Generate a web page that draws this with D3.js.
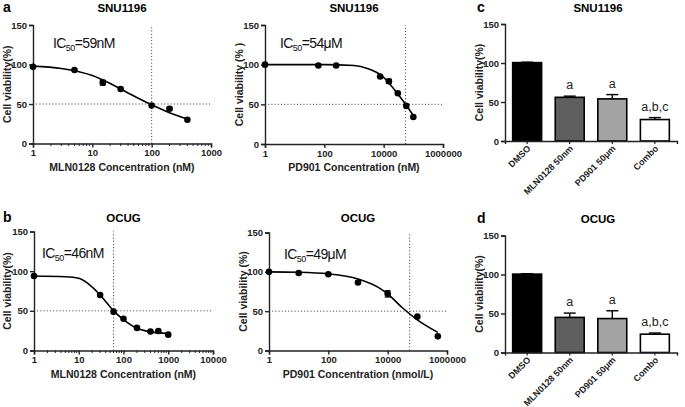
<!DOCTYPE html>
<html><head><meta charset="utf-8">
<script src="https://cdn.jsdelivr.net/npm/d3@7"></script>
<style>
body{margin:0;background:#fff;}
svg{font-family:"Liberation Sans",Arial,sans-serif;}
</style></head>
<body><svg id="c" width="685" height="407"></svg>
<script>
// ---------- DATA ----------
// Panel a (left): SNU1196, MLN0128
const a1Conc = [1, 5, 15, 30, 100, 200, 400];
const a1Viab = [97, 93, 77, 69, 48, 44, 30];
const a1Err  = [0, 0, 3, 0, 0, 2, 0];
const a1CurveConc = [1, 3, 10, 20, 40, 100, 200, 400];
const a1CurveViab = [98, 95, 86, 76, 64, 49, 39, 31];
const a1Ticks = [1, 10, 100, 1000];
const a1Ref = 100;

// Panel a (right): SNU1196, PD901
const a2Conc = [1, 63, 250, 7600, 15000, 30000, 58000, 100000];
const a2Viab = [100, 99, 99, 85, 79, 64, 48, 34];
const a2Err  = [0, 0, 0, 0, 2.5, 0, 0, 0];
const a2CurveConc = [1, 100, 1000, 3000, 8000, 15000, 30000, 60000, 100000];
const a2CurveViab = [100, 100, 99, 95, 87, 77, 63, 48, 36];
const a2Ticks = [1, 100, 10000, 1000000];
const a2Ref = 54000;

// Panel b (left): OCUG, MLN0128
const b1Conc = [1, 30, 60, 100, 200, 400, 600, 1000];
const b1Viab = [94, 70, 49, 40, 28.5, 24, 24.5, 20];
const b1Err  = [0, 0, 0, 0, 0, 0, 0, 0];
const b1CurveConc = [1, 5, 10, 20, 30, 60, 100, 200, 400, 1000];
const b1CurveViab = [94, 93, 91, 80, 70, 50, 39, 28, 23.5, 21.5];
const b1Ticks = [1, 10, 100, 1000, 10000];
const b1Ref = 60;

// Panel b (right): OCUG, PD901
const b2Conc = [1, 10, 100, 1000, 10000, 100000, 490000];
const b2Viab = [100, 98.5, 97, 86.5, 72, 43, 18];
const b2Err  = [0, 0, 0, 0, 4, 0, 0];
const b2CurveConc = [1, 10, 100, 1000, 5000, 10000, 30000, 100000, 490000];
const b2CurveViab = [100, 99.5, 97.5, 91, 80, 72, 55, 39, 23];
const b2Ticks = [1, 100, 10000, 1000000];
const b2Ref = 55000;

const yTicks = [0, 50, 100, 150];

// Panels c and d: bars
const barCats = ["DMSO", "MLN0128 50nm", "PD901 50μm", "Combo"];
const barFills = ["#000000", "#5f5f5f", "#a3a3a3", "#ffffff"];
const cViab = [100.5, 56, 54, 27.5];
const cErr  = [0.5, 1.5, 5.5, 2.5];
const dViab = [100.5, 45, 43.5, 23.5];
const dErr  = [0.5, 5.5, 10, 1.5];
const sigLabels = ["", "a", "a", "a,b,c"];

// ---------- DRAW ----------
const svg = d3.select("#c");
const FONT_TICK = 9.5, FONT_AX = 10.5, FONT_TITLE = 11.5;

function yAxis(g, y, x0) {
  const ax = g.append("g").attr("transform", `translate(${x0},0)`)
    .call(d3.axisLeft(y).tickValues(yTicks).tickSize(4).tickPadding(2).tickFormat(d3.format("d")));
  ax.select(".domain").attr("stroke", "#222").attr("stroke-width", 1.4);
  ax.selectAll(".tick line").attr("stroke", "#222").attr("stroke-width", 1.4);
  ax.selectAll("text").attr("font-size", FONT_TICK).attr("font-weight", "bold").attr("fill", "#222");
  return ax;
}

function curvePanel(o) {
  const g = svg.append("g");
  const x = d3.scaleLog().domain([o.ticks[0], o.ticks[o.ticks.length - 1]]).range([o.x0, o.x1]);
  const y = d3.scaleLinear().domain([0, 150]).range([o.y0, o.y1]);
  // reference dotted lines
  g.append("line").attr("x1", o.x0).attr("x2", o.x1).attr("y1", y(50)).attr("y2", y(50))
    .attr("stroke", "#333").attr("stroke-width", 1).attr("stroke-dasharray", "1,2.2");
  g.append("line").attr("x1", x(o.ref)).attr("x2", x(o.ref)).attr("y1", y(0)).attr("y2", y(150))
    .attr("stroke", "#333").attr("stroke-width", 1).attr("stroke-dasharray", "1,2.2");
  // x axis
  const xa = g.append("g").attr("transform", `translate(0,${o.y0})`)
    .call(d3.axisBottom(x).tickValues(o.ticks).tickSize(4).tickPadding(2).tickFormat(d3.format("d")));
  xa.select(".domain").attr("stroke", "#222").attr("stroke-width", 1.4);
  xa.selectAll(".tick line").attr("stroke", "#222").attr("stroke-width", 1.4);
  xa.selectAll("text").attr("font-size", FONT_TICK).attr("font-weight", "bold").attr("fill", "#222");
  if (o.minor) {
    const minors = [];
    for (let i = 0; i < o.ticks.length - 1; i++)
      for (let k = 2; k <= 9; k++) minors.push(o.ticks[i] * k);
    g.selectAll(".mn").data(minors).enter().append("line")
      .attr("x1", d => x(d)).attr("x2", d => x(d)).attr("y1", o.y0).attr("y2", o.y0 + 2.5)
      .attr("stroke", "#222").attr("stroke-width", 1);
  }
  yAxis(g, y, o.x0);
  // curve
  const pts = o.cConc.map((c, i) => [x(c), y(o.cViab[i])]);
  g.append("path").attr("d", d3.line().curve(d3.curveMonotoneX)(pts))
    .attr("fill", "none").attr("stroke", "#000").attr("stroke-width", 1.6);
  // error bars
  o.conc.forEach((c, i) => {
    if (o.err[i] > 0) {
      const cx = x(c);
      g.append("line").attr("x1", cx).attr("x2", cx).attr("y1", y(o.viab[i] - o.err[i])).attr("y2", y(o.viab[i] + o.err[i]))
        .attr("stroke", "#000").attr("stroke-width", 1.2);
      [o.viab[i] - o.err[i], o.viab[i] + o.err[i]].forEach(v =>
        g.append("line").attr("x1", cx - 3).attr("x2", cx + 3).attr("y1", y(v)).attr("y2", y(v))
          .attr("stroke", "#000").attr("stroke-width", 1.2));
    }
  });
  g.selectAll(".pt").data(o.conc).enter().append("circle")
    .attr("cx", d => x(d)).attr("cy", (d, i) => y(o.viab[i])).attr("r", 3.3).attr("fill", "#000");
  // titles
  g.append("text").attr("x", (o.x0 + o.x1) / 2).attr("y", o.titleY).attr("text-anchor", "middle")
    .attr("font-size", FONT_TITLE).attr("font-weight", "bold").text(o.title);
  g.append("text").attr("x", (o.x0 + o.x1) / 2).attr("y", o.y0 + 27).attr("text-anchor", "middle")
    .attr("font-size", FONT_AX).attr("font-weight", "bold").attr("fill", "#222").text(o.xTitle);
  g.append("text").attr("transform", `translate(${o.yTitleX},${(o.y0 + o.y1) / 2}) rotate(-90)`)
    .attr("text-anchor", "middle").attr("font-size", FONT_AX).attr("font-weight", "bold").attr("fill", "#222").text(o.yTitle);
  const t = g.append("text").attr("x", o.icX).attr("y", o.icY).attr("font-size", 14).attr("fill", "#111")
    .attr("letter-spacing", "-0.6");
  t.append("tspan").text("IC");
  t.append("tspan").attr("font-size", 9).attr("dy", 3).text("50");
  t.append("tspan").attr("dy", -3).text(o.icVal);
}

curvePanel({x0: 33, x1: 211, y0: 143.5, y1: 25, ticks: a1Ticks, minor: true, ref: a1Ref,
  conc: a1Conc, viab: a1Viab, err: a1Err, cConc: a1CurveConc, cViab: a1CurveViab,
  title: "SNU1196", titleY: 12, xTitle: "MLN0128 Concentration (nM)", yTitle: "Cell viability(%)", yTitleX: 11,
  icX: 53, icY: 48, icVal: "=59nM"});
curvePanel({x0: 265, x1: 443, y0: 144, y1: 25, ticks: a2Ticks, minor: false, ref: a2Ref,
  conc: a2Conc, viab: a2Viab, err: a2Err, cConc: a2CurveConc, cViab: a2CurveViab,
  title: "SNU1196", titleY: 12, xTitle: "PD901 Concentration (nM)", yTitle: "Cell viability (% )", yTitleX: 243,
  icX: 280, icY: 48, icVal: "=54μM"});
curvePanel({x0: 34, x1: 213, y0: 350.5, y1: 231.5, ticks: b1Ticks, minor: true, ref: b1Ref,
  conc: b1Conc, viab: b1Viab, err: b1Err, cConc: b1CurveConc, cViab: b1CurveViab,
  title: "OCUG", titleY: 222, xTitle: "MLN0128 Concentration (nM)", yTitle: "Cell viability(%)", yTitleX: 11,
  icX: 42, icY: 258, icVal: "=46nM"});
curvePanel({x0: 269, x1: 447, y0: 350.5, y1: 232.5, ticks: b2Ticks, minor: false, ref: b2Ref,
  conc: b2Conc, viab: b2Viab, err: b2Err, cConc: b2CurveConc, cViab: b2CurveViab,
  title: "OCUG", titleY: 222, xTitle: "PD901 Concentration (nmol/L)", yTitle: "Cell viability (%)", yTitleX: 247,
  icX: 284, icY: 259, icVal: "=49μM"});

function barPanel(o) {
  const g = svg.append("g");
  const x = d3.scaleBand().domain(barCats).range([o.x0, o.x1]).paddingInner(0.32).paddingOuter(0.18);
  const y = d3.scaleLinear().domain([0, 150]).range([o.y0, o.y1]);
  barCats.forEach((c, i) => {
    const bx = x(c), bw = x.bandwidth(), cx = bx + bw / 2;
    const top = y(o.viab[i] + o.err[i]);
    g.append("line").attr("x1", cx).attr("x2", cx).attr("y1", y(o.viab[i])).attr("y2", top)
      .attr("stroke", "#000").attr("stroke-width", 1.4);
    g.append("line").attr("x1", cx - 6).attr("x2", cx + 6).attr("y1", top).attr("y2", top)
      .attr("stroke", "#000").attr("stroke-width", 1.4);
    g.append("rect").attr("x", bx).attr("y", y(o.viab[i])).attr("width", bw).attr("height", y(0) - y(o.viab[i]))
      .attr("fill", barFills[i]).attr("stroke", "#000").attr("stroke-width", 1.6);
    if (sigLabels[i]) {
      g.append("text").attr("x", cx).attr("y", y(o.viab[i] + o.err[i]) - 7).attr("text-anchor", "middle")
        .attr("font-size", 12.5).attr("fill", "#222").text(sigLabels[i]);
    }
  });
  const xa = g.append("g").attr("transform", `translate(0,${o.y0})`)
    .call(d3.axisBottom(x).tickSize(3).tickFormat(""));
  xa.select(".domain").attr("stroke", "#222").attr("stroke-width", 1.4);
  xa.selectAll(".tick line").attr("stroke", "#222").attr("stroke-width", 1.2);
  barCats.forEach(c => {
    const cx = x(c) + x.bandwidth() / 2;
    g.append("text").attr("transform", `translate(${cx + 4},${o.y0 + 8}) rotate(-45)`)
      .attr("text-anchor", "end").attr("font-size", 9).attr("font-weight", "bold").attr("fill", "#222").text(c);
  });
  yAxis(g, y, o.x0);
  g.append("text").attr("x", o.titleX).attr("y", o.titleY).attr("text-anchor", "middle")
    .attr("font-size", FONT_TITLE).attr("font-weight", "bold").text(o.title);
  g.append("text").attr("transform", `translate(${o.yTitleX},${(o.y0 + o.y1) / 2}) rotate(-90)`)
    .attr("text-anchor", "middle").attr("font-size", FONT_AX).attr("font-weight", "bold").attr("fill", "#222").text("Cell viability(%)");
}

barPanel({x0: 505, x1: 677, y0: 141, y1: 24, viab: cViab, err: cErr, title: "SNU1196", titleX: 598, titleY: 12, yTitleX: 483});
barPanel({x0: 505, x1: 677, y0: 352.5, y1: 235.5, viab: dViab, err: dErr, title: "OCUG", titleX: 598, titleY: 223, yTitleX: 483});

// panel letters
[["a", 3, 12], ["b", 3, 222], ["c", 477, 12], ["d", 477, 223]].forEach(([t, x, y]) =>
  svg.append("text").attr("x", x).attr("y", y).attr("font-size", 14).attr("font-weight", "bold").text(t));
</script></body></html>
